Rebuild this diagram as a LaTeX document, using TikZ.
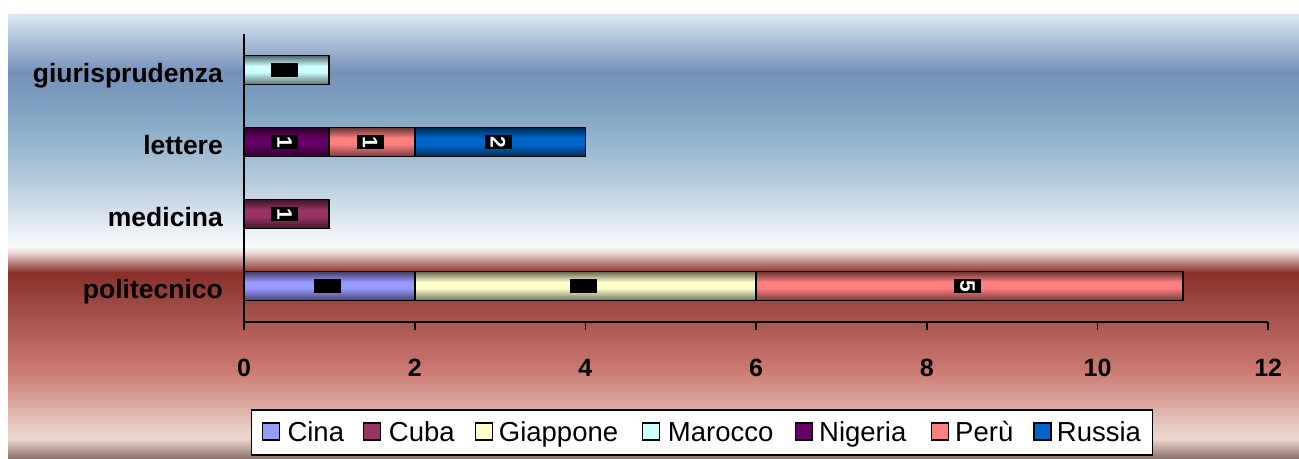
\documentclass[tikz,border=0pt]{standalone}
\usepackage{fontspec}
\setmainfont{Liberation Sans}
\definecolor{cCina}{HTML}{9999FF}
\definecolor{cCuba}{HTML}{993366}
\definecolor{cGiappone}{HTML}{FFFFCC}
\definecolor{cMarocco}{HTML}{CCFFFF}
\definecolor{cNigeria}{HTML}{660066}
\definecolor{cPeru}{HTML}{FF8080}
\definecolor{cRussia}{HTML}{0066CC}
\definecolor{bgA}{HTML}{DCE9F4}
\definecolor{bgB}{HTML}{7690B8}
\definecolor{bgC}{HTML}{80A5C3}
\definecolor{bgD}{HTML}{B5CADC}
\definecolor{bgE}{HTML}{FAFBFC}
\definecolor{bgF}{HTML}{EEDCD8}
\definecolor{bgG}{HTML}{8A2F2A}
\definecolor{bgH}{HTML}{9E4A45}
\definecolor{bgI}{HTML}{CB7A72}
\definecolor{bgJ}{HTML}{EDDAD2}
\definecolor{bgK}{HTML}{8F746E}
\newcommand\cylbar[4]{%
  \fill[#4] (#1,#3-14.5) rectangle (#2,#3+14.5);
  \shade[top color=#4!40!black, bottom color=#4] (#1,#3-14.5) rectangle (#2,#3-4);
  \shade[top color=#4, bottom color=#4!45!black] (#1,#3+2) rectangle (#2,#3+14.5);
  \draw[barline] (#1,#3-14.5) rectangle (#2,#3+14.5);
}
\newcommand\bgband[4]{\shade[top color=#3, bottom color=#4] (8,#1) rectangle (1299,#2);}
\begin{document}
\begin{tikzpicture}[x=1pt,y=-1pt,
  barline/.style={line width=1.8pt, line join=miter},
  axisline/.style={line width=1.8pt},
  catlab/.style={anchor=base east, font=\bfseries\fontsize{26.5}{30}\selectfont, inner sep=0pt},
  ticklab/.style={anchor=base, font=\bfseries\fontsize{25}{28}\selectfont, inner sep=0pt},
  dlab/.style={fill=black, text=white, font=\bfseries\fontsize{21}{21}\selectfont, inner sep=0pt, minimum width=14.7pt, minimum height=27pt, rotate=-90},
  legsq/.style={draw, line width=1.5pt, minimum size=17pt, inner sep=0pt},
  legtxt/.style={anchor=base west, font=\fontsize{27.5}{30}\selectfont, inner sep=0pt}]
\useasboundingbox (0,0) rectangle (1299,458);
% background
\bgband{14}{72.5}{bgA}{bgB}
\bgband{72}{112.5}{bgB}{bgC}
\bgband{112}{180.5}{bgC}{bgD}
\bgband{180}{246.5}{bgD}{bgE}
\bgband{246}{252.5}{bgE}{bgF}
\bgband{252}{272.5}{bgF}{bgG}
\bgband{272}{305.5}{bgG}{bgH}
\bgband{305}{370.5}{bgH}{bgI}
\bgband{370}{438.5}{bgI}{bgJ}
\bgband{438}{458}{bgJ}{bgK}
% bars
\cylbar{244}{329.35}{70}{cMarocco}
\cylbar{244}{329.35}{142}{cNigeria}
\cylbar{329.35}{414.7}{142}{cPeru}
\cylbar{414.7}{585.4}{142}{cRussia}
\cylbar{244}{329.35}{214}{cCuba}
\cylbar{244}{414.7}{286}{cCina}
\cylbar{414.7}{756.1}{286}{cGiappone}
\cylbar{756.1}{1182.85}{286}{cPeru}
% axes
\draw[axisline] (244,34) -- (244,330);
\draw[axisline] (244,322) -- (1268.2,322);
\foreach \v/\xx in {0/244,2/414.7,4/585.4,6/756.1,8/926.8,10/1097.5,12/1268.2}{
  \draw[axisline] (\xx,322) -- (\xx,330);
  \node[ticklab] (tick\v) at (\xx,376) {\v};
}
% category labels
\node[catlab] (cGiur) at (223,82.5) {giurisprudenza};
\node[catlab] (cLett) at (223,154.5) {lettere};
\node[catlab] (cMed) at (223,226.5) {medicina};
\node[catlab] (cPol) at (223,298.5) {politecnico};
% data labels
\node[dlab] (dGiur) at (284.7,70) {};
\node[dlab] (dLettN) at (284.7,142) {1};
\node[dlab] (dLettP) at (370,142) {1};
\node[dlab] (dLettR) at (498,142) {2};
\node[dlab] (dMed) at (284.7,214) {1};
\node[dlab] (dPolC) at (327.4,286) {};
\node[dlab] (dPolG) at (583.5,286) {};
\node[dlab] (dPolP) at (967.5,286) {5};
% legend
\node[draw, fill=white, line width=1.5pt, minimum width=901pt, minimum height=45pt, inner sep=0pt] (legend) at (701.8,432.5) {};
\foreach \nm/\col/\sx/\tx/\lab in {Cina/cCina/271/287.3/Cina, Cuba/cCuba/372.2/388.7/Cuba, Giap/cGiappone/483.9/498.7/Giappone, Maro/cMarocco/650.9/667.7/Marocco, Nige/cNigeria/804.2/819/Nigeria, Peru/cPeru/940/955/Perù, Russ/cRussia/1042.5/1056.7/Russia}{
  \node[legsq, fill=\col] (sq\nm) at (\sx,431.7) {};
  \node[legtxt] (lt\nm) at (\tx,441) {\lab};
}
\end{tikzpicture}
\end{document}
